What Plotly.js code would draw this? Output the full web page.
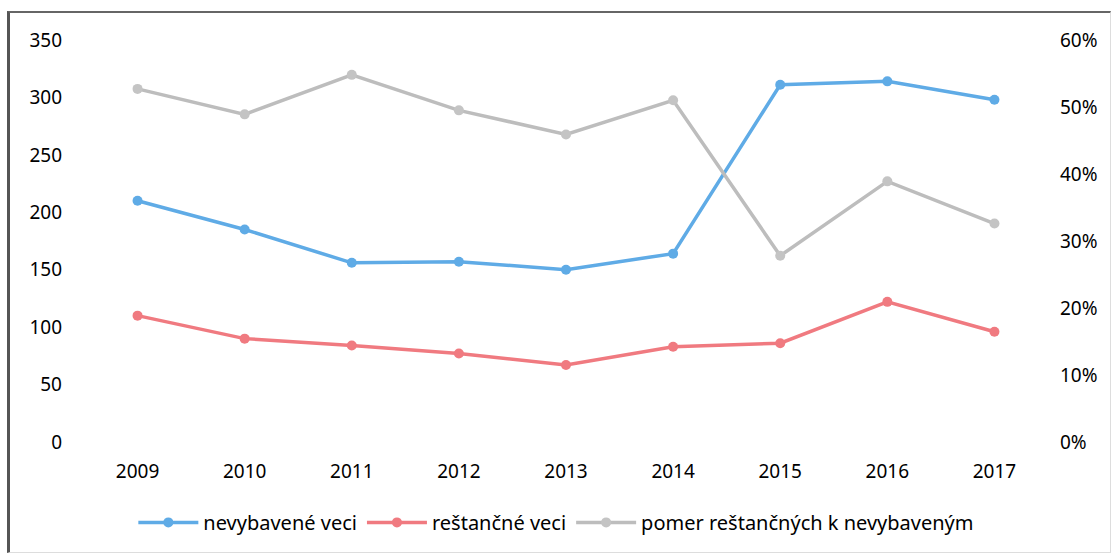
<!DOCTYPE html>
<html>
<head>
<meta charset="utf-8">
<script src="https://cdn.plot.ly/plotly-3.0.1.min.js"></script>
<style>
html,body{margin:0;padding:0;background:#fff;}
#wrap{position:relative;width:1115px;height:558px;}
#chart{width:1115px;height:558px;}
#frame{position:absolute;left:7px;top:11px;width:1104px;height:542px;border-left:3px solid #555;border-top:2px solid #666;border-right:1px solid #ddd;border-bottom:1px solid #ddd;pointer-events:none;box-sizing:border-box;}
</style>
</head>
<body>
<div id="wrap"><div id="chart"></div><div id="frame"></div></div>
<script>
const years = ['2009','2010','2011','2012','2013','2014','2015','2016','2017'];
const nevybavene = [210, 185, 156, 157, 150, 164, 311, 314, 298];
const restancne = [110, 90, 84, 77, 67, 83, 86, 122, 96];
const pomer = [0.527, 0.489, 0.548, 0.495, 0.459, 0.51, 0.278, 0.389, 0.326];
const names = ['nevybavené veci', 'reštančné veci', 'pomer reštančných k nevybaveným'];

const fnt = {family: 'Noto Sans, Open Sans, sans-serif', size: 19, color: '#000'};
const lfnt = {family: 'Noto Sans, Open Sans, sans-serif', size: 20, color: '#000'};

const traces = [
  {x: years, y: nevybavene, name: names[0], type: 'scatter', mode: 'lines+markers',
   line: {color: '#5fabe6', width: 3.5}, marker: {color: '#5fabe6', size: 10}},
  {x: years, y: restancne, name: names[1], type: 'scatter', mode: 'lines+markers',
   line: {color: '#f07a80', width: 3.5}, marker: {color: '#f07a80', size: 10}},
  {x: years, y: pomer, name: names[2], type: 'scatter', mode: 'lines+markers', yaxis: 'y2',
   line: {color: '#bdbdbd', width: 3.5}, marker: {color: '#c4c4c4', size: 10}}
];

const layout = {
  width: 1115, height: 558,
  margin: {l: 83, r: 66, t: 40, b: 116},
  paper_bgcolor: '#fff', plot_bgcolor: '#fff',
  font: fnt,
  showlegend: true,
  legend: {orientation: 'h', x: 0.49, xanchor: 'center', y: -0.2, yanchor: 'middle',
           font: lfnt, itemwidth: 60, tracegroupgap: 0},
  xaxis: {type: 'category', showgrid: false, zeroline: false, showline: false,
          ticks: '', tickfont: fnt, ticklabelstandoff: 16, fixedrange: true},
  yaxis: {range: [0, 350], dtick: 50, showgrid: false, zeroline: false, showline: false,
          ticks: '', tickfont: fnt, ticklabelstandoff: 20},
  yaxis2: {range: [0, 0.6], dtick: 0.1, tickformat: '.0%', overlaying: 'y', side: 'right',
           showgrid: false, zeroline: false, showline: false, ticks: '', tickfont: fnt,
           ticklabelstandoff: 10}
};

Plotly.newPlot('chart', traces, layout, {displayModeBar: false, staticPlot: true});
</script>
</body>
</html>
